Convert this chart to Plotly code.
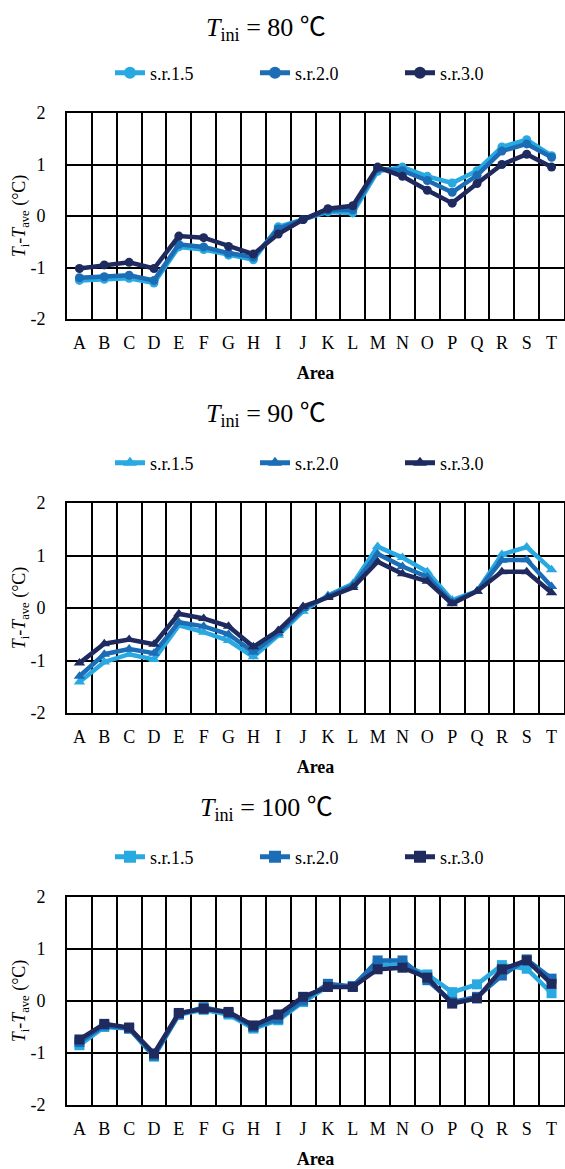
import plotly.graph_objects as go

categories = list("ABCDEFGHIJKLMNOPQRST")
series_names = ["s.r.1.5", "s.r.2.0", "s.r.3.0"]
colors = ["#29a9e1", "#1b6db6", "#1f2a5f"]
titles = ["80", "90", "100"]
symbols = ["circle", "triangle-up", "square"]

# T_ini = 80
p1_sr15 = [-1.25, -1.23, -1.21, -1.30, -0.60, -0.65, -0.76, -0.85, -0.21, -0.07, 0.08, 0.06, 0.87, 0.95, 0.77, 0.64, 0.88, 1.34, 1.48, 1.17]
p1_sr20 = [-1.20, -1.18, -1.15, -1.25, -0.55, -0.60, -0.72, -0.80, -0.25, -0.07, 0.11, 0.12, 0.92, 0.88, 0.69, 0.46, 0.79, 1.26, 1.40, 1.14]
p1_sr30 = [-1.02, -0.95, -0.90, -1.02, -0.39, -0.42, -0.59, -0.74, -0.35, -0.07, 0.14, 0.20, 0.95, 0.77, 0.50, 0.25, 0.63, 1.00, 1.20, 0.95]
# T_ini = 90
p2_sr15 = [-1.41, -1.03, -0.88, -0.98, -0.33, -0.46, -0.62, -0.93, -0.52, -0.06, 0.24, 0.46, 1.17, 0.96, 0.69, 0.15, 0.32, 1.02, 1.16, 0.73]
p2_sr20 = [-1.30, -0.88, -0.78, -0.86, -0.27, -0.35, -0.50, -0.84, -0.48, -0.01, 0.22, 0.43, 1.03, 0.79, 0.59, 0.11, 0.32, 0.91, 0.92, 0.41]
p2_sr30 = [-1.05, -0.68, -0.60, -0.69, -0.11, -0.20, -0.35, -0.74, -0.43, 0.03, 0.20, 0.39, 0.88, 0.65, 0.51, 0.08, 0.32, 0.69, 0.69, 0.29]
# T_ini = 100
p3_sr15 = [-0.85, -0.50, -0.53, -1.07, -0.26, -0.17, -0.26, -0.53, -0.37, -0.02, 0.28, 0.29, 0.71, 0.69, 0.51, 0.17, 0.32, 0.69, 0.62, 0.15]
p3_sr20 = [-0.79, -0.47, -0.53, -1.05, -0.26, -0.12, -0.23, -0.50, -0.34, 0.01, 0.33, 0.28, 0.78, 0.78, 0.40, -0.02, 0.08, 0.49, 0.80, 0.43]
p3_sr30 = [-0.74, -0.44, -0.51, -1.01, -0.23, -0.15, -0.21, -0.47, -0.26, 0.08, 0.27, 0.27, 0.61, 0.64, 0.45, -0.05, 0.05, 0.61, 0.78, 0.33]

panels = [[p1_sr15, p1_sr20, p1_sr30], [p2_sr15, p2_sr20, p2_sr30], [p3_sr15, p3_sr20, p3_sr30]]
y_ticks = [-2, -1, 0, 1, 2]

W, H = 565, 1169
FONT = "Liberation Serif, Times New Roman, Times, serif"
# pixel layout: (plot top, plot bottom, title y, legend y)
pix = [(113, 319, 25, 73), (503, 713, 412, 463), (897, 1105, 805, 857)]
plot_left, plot_right = 67, 564

fig = go.Figure()
legend_names = ["legend", "legend2", "legend3"]
for pi, data in enumerate(panels):
    ax = "" if pi == 0 else str(pi + 1)
    for si, vals in enumerate(data):
        fig.add_trace(go.Scatter(
            x=categories, y=vals, name=series_names[si], mode="lines+markers",
            line=dict(color=colors[si], width=4.5),
            marker=dict(symbol=symbols[pi], size=10 if pi else 9, color=colors[si]),
            xaxis="x" + ax, yaxis="y" + ax, legend=legend_names[pi],
        ))

def py(v):
    return 1 - v / H

layout = dict(
    width=W, height=H, margin=dict(l=0, r=0, t=0, b=0, autoexpand=False),
    paper_bgcolor="white", plot_bgcolor="white",
    font=dict(family=FONT, size=18, color="black"),
    showlegend=True,
)
annotations = []
for pi, (top, bot, ty, ly) in enumerate(pix):
    ax = "" if pi == 0 else str(pi + 1)
    xa = dict(
        type="category", domain=[plot_left / W, plot_right / W], anchor="y" + ax,
        tickson="boundaries", showgrid=True, gridcolor="black", gridwidth=1.5,
        showline=True, linecolor="black", linewidth=2, mirror=True,
        ticks="", ticklabelstandoff=6, tickfont=dict(size=18), automargin=False,
        title=dict(text="<b>Area</b>", font=dict(size=18), standoff=15),
        range=[-0.5, len(categories) - 0.5], fixedrange=True,
    )
    ya = dict(
        domain=[py(bot), py(top)], anchor="x" + ax, range=[-2, 2],
        tickvals=y_ticks, ticktext=[str(v) for v in y_ticks],
        showgrid=True, gridcolor="black", gridwidth=1.5, zeroline=False,
        showline=True, linecolor="black", linewidth=2, mirror=True,
        ticks="", ticklabelstandoff=16, tickfont=dict(size=18), automargin=False,
        title=dict(text="<i>T</i><sub>i</sub>-<i>T</i><sub>ave</sub> (°C)", font=dict(size=18), standoff=0),
    )
    layout["xaxis" + ax] = xa
    layout["yaxis" + ax] = ya
    annotations.append(dict(
        text="<i>T</i><sub>ini</sub> = " + titles[pi] + " <span style='font-family:Noto Sans CJK SC'>℃</span>",
        xref="paper", yref="paper",
        x=266 / W, y=py(ty), xanchor="center", yanchor="middle", showarrow=False,
        font=dict(size=26),
    ))
    layout[legend_names[pi]] = dict(
        orientation="h", x=110 / W, y=py(ly), xanchor="left", yanchor="middle",
        font=dict(size=18), entrywidth=100, entrywidthmode="pixels",
        bgcolor="rgba(0,0,0,0)", itemsizing="constant",
    )
layout["annotations"] = annotations
fig.update_layout(**layout)
fig.write_html("out.html", config={"displayModeBar": False},
               post_script="document.body.style.margin='0';document.body.style.overflow='hidden';")
